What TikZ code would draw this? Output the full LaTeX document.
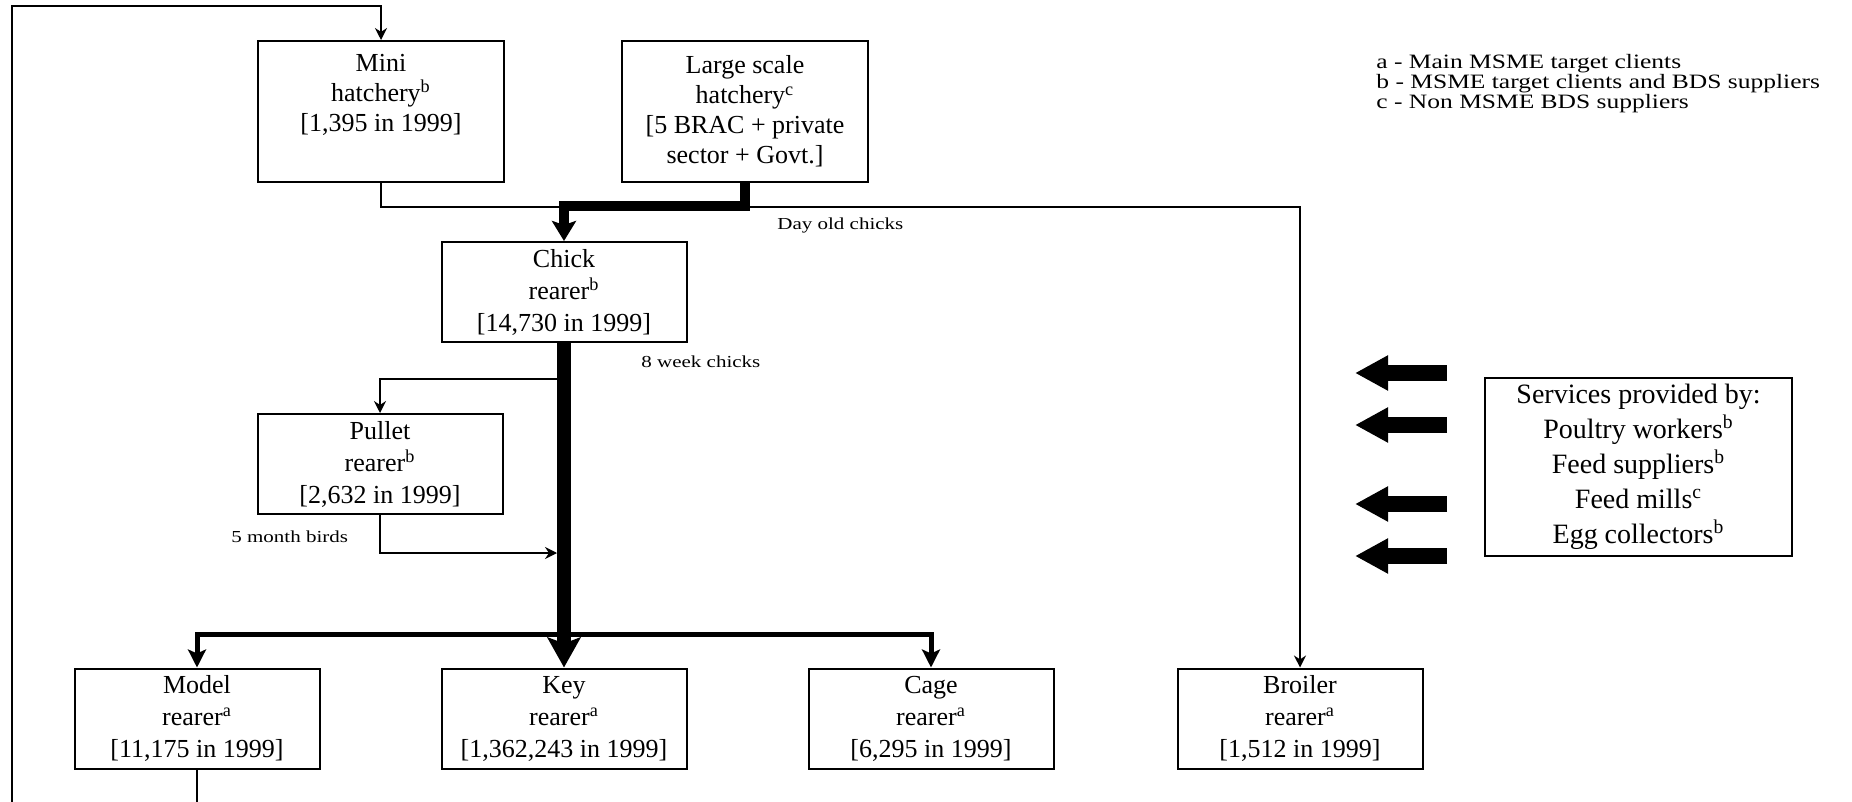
\documentclass[tikz,border=0pt]{standalone}
\usepackage{fontspec}
\setmainfont{Liberation Serif}
\newfontfamily\widefont{Liberation Serif}[FakeStretch=1.25]
\usepackage{tikz}
\usetikzlibrary{arrows.meta}
\tikzstyle{hatch} = [rectangle, minimum width=123pt, minimum height=70.5pt, text centered, align=center, draw=black, line width=1pt, font=\fontsize{13}{15}\selectfont]
\tikzstyle{rearer} = [rectangle, minimum width=122.5pt, minimum height=50pt, text centered, align=center, draw=black, line width=1pt, font=\fontsize{13}{16}\selectfont]
\tikzstyle{services} = [rectangle, minimum width=153.5pt, minimum height=88pt, text centered, align=center, draw=black, line width=1pt, font=\fontsize{14}{17.5}\selectfont]
\tikzstyle{flowtext} = [inner sep=0pt, anchor=base west, font=\widefont\fontsize{8.4}{10}\selectfont]
\tikzstyle{legendtext} = [inner sep=0pt, anchor=north west, align=left, font=\widefont\fontsize{10.2}{10}\selectfont]
\tikzstyle{flowline} = [line width=0.75pt]
\tikzstyle{flowthin} = [line width=0.75pt, -{Stealth[length=6pt, width=6pt]}]
\tikzstyle{flowbar} = [line width=2.5pt, -{Stealth[length=9pt, width=9pt, inset=2pt]}]
\tikzstyle{flowlarge} = [line width=5pt, -{Stealth[length=10pt, width=12pt, inset=2pt]}]
\tikzstyle{flowmain} = [line width=7pt, -{Stealth[length=15pt, width=16.5pt, inset=3pt]}]
\tikzstyle{blockarrow} = [line width=8pt, -{Triangle[length=16.5pt, width=16.5pt]}]

\begin{document}
\begin{tikzpicture}[x=0.5pt, y=-0.5pt, node distance=86pt]
    \useasboundingbox (0,0) rectangle (1852,802);

    \node(Mini)[hatch] at (381,111.5) {Mini\\hatchery\textsuperscript{b}\\{[}1,395 in 1999{]}\\[4pt]\mbox{}};

    \node(Large)[hatch, right of=Mini, node distance=182pt]{Large scale\\hatchery\textsuperscript{c}\\{[}5 BRAC + private\\sector + Govt.{]}};

    \node(Chick)[rearer, below of=Large, xshift=-90.5pt, yshift=-4.25pt]{Chick\\rearer\textsuperscript{b}\\{[}14,730 in 1999{]}};

    \node(Pullet)[rearer, below of=Chick, xshift=-92pt]{Pullet\\rearer\textsuperscript{b}\\{[}2,632 in 1999{]}};

    \node(Key)[rearer, below of=Pullet, xshift=92pt, yshift=-41.25pt]{Key\\rearer\textsuperscript{a}\\{[}1,362,243 in 1999{]}};

    \node(Model)[rearer, left of=Key, node distance=183.5pt]{Model\\rearer\textsuperscript{a}\\{[}11,175 in 1999{]}};

    \node(Cage)[rearer, right of=Key, node distance=183.5pt]{Cage\\rearer\textsuperscript{a}\\{[}6,295 in 1999{]}};

    \node(Broiler)[rearer, right of=Cage, node distance=184.5pt]{Broiler\\rearer\textsuperscript{a}\\{[}1,512 in 1999{]}};

    \node(Services)[services, right of=Broiler, node distance=169.25pt, yshift=125.75pt]{Services provided by:\\Poultry workers\textsuperscript{b}\\Feed suppliers\textsuperscript{b}\\Feed mills\textsuperscript{c}\\Egg collectors\textsuperscript{b}};

    \node(Legend)[legendtext] at (1376,54) {a - Main MSME target clients\\b - MSME target clients and BDS suppliers\\c - Non MSME BDS suppliers};

    \node(DayOld)[flowtext] at (777,230) {Day old chicks};
    \node(Weeks)[flowtext] at (641,367) {8 week chicks};
    \node(Months)[flowtext] at (231,542) {5 month birds};

    % free ends of the lines
    \coordinate (Split) at ([yshift=-18pt]Chick.south);
    \coordinate (Merge) at (557,553);
    \coordinate (Bar) at ([yshift=16.75pt]Key.north);
    \coordinate (LoopTop) at (12,6);
    \coordinate (LoopEnd) at (12,802);
    \coordinate (ModelOut) at (Model.south |- LoopEnd);

    \draw[flowthin] (Mini.south) -- ++(0,24) -| (Broiler.north);
    \draw[flowlarge] (Large.south) -- ++(0,23) -| (Chick.north);
    \draw[flowthin] (Split) -| (Pullet.north);
    \draw[flowthin] (Pullet.south) |- (Merge);
    \draw[flowbar] (Bar) -| (Model.north);
    \draw[flowbar] (Bar) -| (Cage.north);
    \draw[flowmain] (Chick.south) -- (Key.north);
    \draw[flowthin] (LoopEnd) -- (LoopTop) -| (Mini.north);
    \draw[flowline] (Model.south) -- (ModelOut);

    \foreach \y in {373,425,504,556}
        \draw[blockarrow] (1447,\y) -- (1355,\y);

\end{tikzpicture}
\end{document}
